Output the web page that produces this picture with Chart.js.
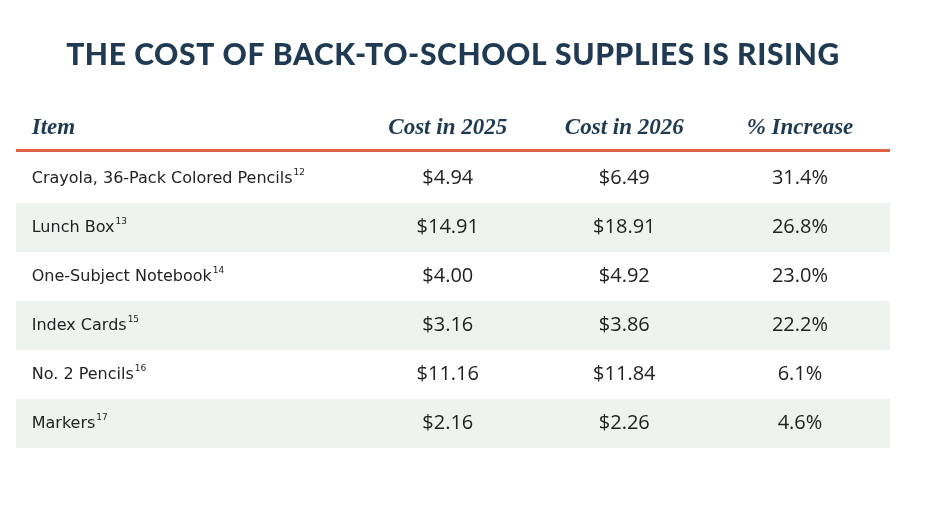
<!DOCTYPE html>
<html><head><meta charset="utf-8">
<script src="https://cdn.jsdelivr.net/npm/chart.js@4"></script>
<style>html,body{margin:0;padding:0;background:#fff}#w{width:936px;height:514px}</style>
</head><body><div id="w"><canvas id="c"></canvas></div>
<script>
const title = "THE COST OF BACK-TO-SCHOOL SUPPLIES IS RISING";
const headers = ["Item", "Cost in 2025", "Cost in 2026", "% Increase"];
const items = ["Crayola, 36-Pack Colored Pencils", "Lunch Box", "One-Subject Notebook", "Index Cards", "No. 2 Pencils", "Markers"];
const footnotes = ["12", "13", "14", "15", "16", "17"];
const cost2025 = [4.94, 14.91, 4.00, 3.16, 11.16, 2.16];
const cost2026 = [6.49, 18.91, 4.92, 3.86, 11.84, 2.26];
const pctIncrease = [31.4, 26.8, 23.0, 22.2, 6.1, 4.6];

const colX = [0.018, 0.494, 0.696, 0.897];
const stripes = items.map((_, i) => i % 2 === 1 ? [0, 1] : null);

const tablePlugin = {
  id: 'tbl',
  afterDatasetsDraw(chart) {
    const ctx = chart.ctx, x = chart.scales.x, y = chart.scales.y, ca = chart.chartArea;
    ctx.save();
    ctx.fillStyle = '#1f3a52';
    ctx.font = '900 30px Lato';
    ctx.letterSpacing = '0.6px';
    ctx.textAlign = 'center'; ctx.textBaseline = 'middle';
    ctx.fillText(title, 453, 55);
    ctx.letterSpacing = '0px';
    ctx.font = 'italic bold 23px "Liberation Serif"';
    ctx.textBaseline = 'alphabetic';
    headers.forEach((h, i) => {
      ctx.textAlign = i === 0 ? 'left' : 'center';
      ctx.fillText(h, x.getPixelForValue(colX[i]), 134);
    });
    ctx.fillStyle = '#e06443';
    ctx.fillRect(ca.left, 149, ca.right - ca.left, 3);
    ctx.fillStyle = '#222';
    ctx.textBaseline = 'middle';
    items.forEach((it, i) => {
      const py = y.getPixelForValue(i);
      ctx.textAlign = 'left';
      ctx.font = '16px "DejaVu Sans"';
      const px = x.getPixelForValue(colX[0]);
      ctx.fillText(it, px, py);
      const w = ctx.measureText(it).width;
      ctx.font = '9px "DejaVu Sans"';
      ctx.fillText(footnotes[i], px + w + 1, py - 6);
      ctx.textAlign = 'center';
      ctx.font = '20px "Open Sans"';
      ctx.fillText('$' + cost2025[i].toFixed(2), x.getPixelForValue(colX[1]), py);
      ctx.fillText('$' + cost2026[i].toFixed(2), x.getPixelForValue(colX[2]), py);
      ctx.fillText(pctIncrease[i].toFixed(1) + '%', x.getPixelForValue(colX[3]), py);
    });
    ctx.restore();
  }
};

new Chart(document.getElementById('c'), {
  type: 'bar',
  data: { labels: items, datasets: [{ data: stripes, backgroundColor: '#eef3ef', barPercentage: 1, categoryPercentage: 1 }] },
  options: {
    indexAxis: 'y', responsive: true, maintainAspectRatio: false, animation: false,
    layout: { padding: { top: 154, bottom: 66, left: 16, right: 46 } },
    plugins: { legend: { display: false }, tooltip: { enabled: false } },
    scales: {
      x: { display: false, min: 0, max: 1 },
      y: { display: false, offset: true }
    }
  },
  plugins: [tablePlugin]
});
</script></body></html>
